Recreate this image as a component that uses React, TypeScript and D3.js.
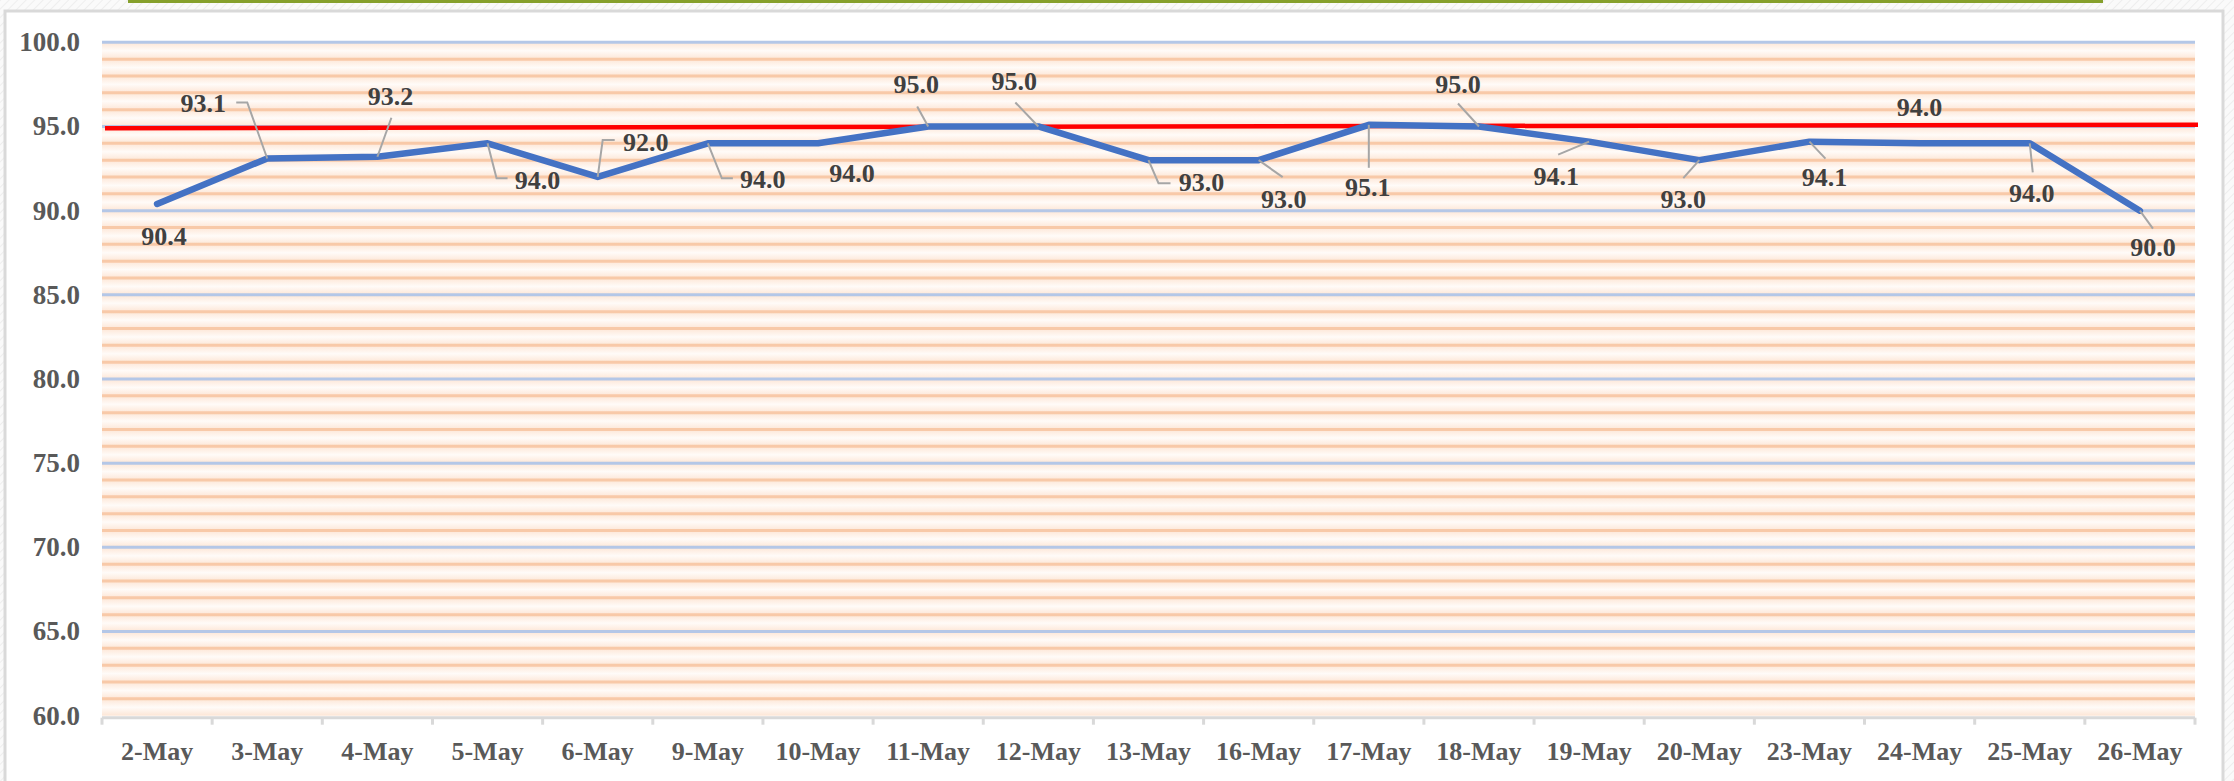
import React from "react";
import * as d3 from "d3";

const categories = ["2-May","3-May","4-May","5-May","6-May","9-May","10-May","11-May","12-May","13-May","16-May","17-May","18-May","19-May","20-May","23-May","24-May","25-May","26-May"];
const values = [90.4,93.1,93.2,94.0,92.0,94.0,94.0,95.0,95.0,93.0,93.0,95.1,95.0,94.1,93.0,94.1,94.0,94.0,90.0];
const targetStart = 94.9;
const targetEnd = 95.1;
const yTicks = [60,65,70,75,80,85,90,95,100];

// label layout: offset of label centre from point, and leader polyline (relative to point)
const labelLayout: { dx: number; dy: number; leader: [number, number][] }[] = [
  { dx: 7, dy: 33, leader: [] },
  { dx: -64, dy: -55, leader: [[-20, -56], [-31, -56]] },
  { dx: 13, dy: -60, leader: [[14, -39]] },
  { dx: 50, dy: 37, leader: [[9, 35], [20, 35]] },
  { dx: 48, dy: -35, leader: [[5, -37], [17, -37]] },
  { dx: 55, dy: 36, leader: [[14, 35], [25, 35]] },
  { dx: 34, dy: 30, leader: [] },
  { dx: -12, dy: -42, leader: [[-11, -20]] },
  { dx: -24, dy: -45, leader: [[-23, -24]] },
  { dx: 53, dy: 22, leader: [[10, 23], [22, 23]] },
  { dx: 25, dy: 39, leader: [[24, 17]] },
  { dx: -1, dy: 63, leader: [[0, 43]] },
  { dx: -21, dy: -42, leader: [[-21, -23]] },
  { dx: -33, dy: 35, leader: [[-31, 13]] },
  { dx: -16, dy: 39, leader: [[-16, 18]] },
  { dx: 15, dy: 36, leader: [[16, 17]] },
  { dx: 0, dy: -36, leader: [] },
  { dx: 2, dy: 50, leader: [[3, 29]] },
  { dx: 13, dy: 37, leader: [[13, 18]] },
];

const W = 2234, H = 781;
const plot = { left: 102, right: 2195, top: 42.3, bottom: 715.7 };
const FONT = "'Liberation Serif', 'Times New Roman', serif";

export default function App() {
  const x = d3.scaleBand<string>().domain(categories).range([plot.left, plot.right]).padding(0);
  const y = d3.scaleLinear().domain([60, 100]).range([plot.bottom, plot.top]);
  const cx = (c: string) => (x(c) as number) + x.bandwidth() / 2;

  const minor = d3.range(60, 100, 1);
  const line = d3.line<number>().x((_, i) => cx(categories[i])).y((v) => y(v));

  return (
    <svg width={W} height={H} style={{ position: "absolute", left: 0, top: 0, display: "block" }}>
      <defs>
        <pattern id="hatch" width="6" height="6" patternUnits="userSpaceOnUse" patternTransform="rotate(45)">
          <rect width="6" height="6" fill="#fafafa" />
          <line x1="0" y1="0" x2="0" y2="6" stroke="#eeeeee" strokeWidth="2" />
        </pattern>
        <linearGradient id="band" x1="0" y1="0" x2="0" y2="1">
          <stop offset="0" stopColor="#fde6d6" />
          <stop offset="0.5" stopColor="#fffbf8" />
          <stop offset="1" stopColor="#fde6d6" />
        </linearGradient>
      </defs>
      <rect x={0} y={0} width={W} height={H} fill="url(#hatch)" />
      <rect x={128} y={0} width={1975} height={3} fill="#86a02c" />
      <rect x={5} y={11} width={2218} height={H} fill="#ffffff" stroke="#d9d9d9" strokeWidth={3} />

      {/* plot background bands */}
      {minor.map((v) => (
        <rect key={"b" + v} x={plot.left} width={plot.right - plot.left} y={y(v + 1)} height={y(v) - y(v + 1)} fill="url(#band)" />
      ))}
      {minor.filter((v) => v % 5 !== 0).map((v) => (
        <line key={"m" + v} x1={plot.left} x2={plot.right} y1={y(v)} y2={y(v)} stroke="#f8c9a8" strokeWidth={3} />
      ))}
      {yTicks.filter((v) => v !== 60).map((v) => (
        <line key={"g" + v} x1={plot.left} x2={plot.right} y1={y(v)} y2={y(v)} stroke="#b4c7e7" strokeWidth={3} />
      ))}

      {/* x axis */}
      <line x1={plot.left} x2={plot.right} y1={y(60) + 2} y2={y(60) + 2} stroke="#d9d9d9" strokeWidth={3} />
      {categories.concat(["__end"]).map((c, i) => {
        const xx = plot.left + i * x.bandwidth();
        return <line key={"t" + i} x1={xx} x2={xx} y1={y(60) + 2} y2={y(60) + 9} stroke="#d9d9d9" strokeWidth={3} />;
      })}
      {categories.map((c) => (
        <text key={"xl" + c} x={cx(c)} y={760} textAnchor="middle" fontFamily={FONT} fontWeight="bold" fontSize={26} fill="#595959">
          {c}
        </text>
      ))}
      {yTicks.map((v) => (
        <text key={"yl" + v} x={80} y={y(v)} dy="0.33em" textAnchor="end" fontFamily={FONT} fontWeight="bold" fontSize={27} fill="#595959">
          {v.toFixed(1)}
        </text>
      ))}

      {/* target line */}
      <line x1={plot.left + 3} x2={plot.right + 3} y1={y(targetStart)} y2={y(targetEnd)} stroke="#ff0000" strokeWidth={4.5} />

      {/* series */}
      <path d={line(values) as string} fill="none" stroke="#4472c4" strokeWidth={6.5} strokeLinejoin="round" strokeLinecap="round" />

      {/* leader lines and labels */}
      {values.map((v, i) => {
        const px = cx(categories[i]);
        const py = y(v);
        const L = labelLayout[i];
        const pts: [number, number][] = [[px, py], ...L.leader.map(([a, b]) => [px + a, py + b] as [number, number])];
        return (
          <g key={"lab" + i}>
            {L.leader.length > 0 && (
              <path d={d3.line()(pts) as string} fill="none" stroke="#a6a6a6" strokeWidth={2} />
            )}
            <text x={px + L.dx} y={py + L.dy} dy="0.33em" textAnchor="middle" fontFamily={FONT} fontWeight="bold" fontSize={26} fill="#404040">
              {v.toFixed(1)}
            </text>
          </g>
        );
      })}
    </svg>
  );
}
